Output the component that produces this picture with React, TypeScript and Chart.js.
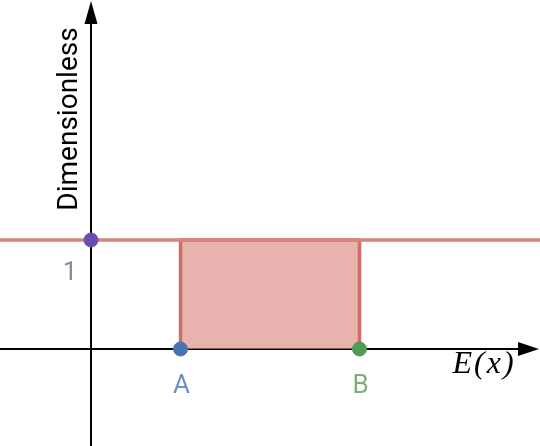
import React, { useEffect, useRef } from "react";
import { Chart, registerables } from "chart.js";

Chart.register(...registerables);

// Data
const pointLabels = ["1", "A", "B"];
const pointX = [0, 1, 3];
const pointY = [1, 0, 0];
const pointColors = ["#6650b0", "#4a74b0", "#4f9a58"];
const labelColors = ["#8c88a8", "#6f93c0", "#7eae80"];
const levelY = 1;
const rectStart = 1;
const rectEnd = 3;
const xAxisLabel = "E(x)";
const yAxisLabel = "Dimensionless";

const X_MIN = -1.017;
const X_MAX = 5.017;
const Y_MIN = -0.89;
const Y_MAX = 3.202;

const axesPlugin = {
  id: "customAxes",
  beforeDatasetsDraw(chart: any) {
    const { ctx, scales } = chart;
    const xs = scales.x;
    const ys = scales.y;
    const x0 = xs.getPixelForValue(0);
    const y0 = ys.getPixelForValue(0);
    ctx.save();
    ctx.strokeStyle = "#000";
    ctx.fillStyle = "#000";
    ctx.lineWidth = 2;
    // x axis
    ctx.beginPath();
    ctx.moveTo(0, y0);
    ctx.lineTo(522, y0);
    ctx.stroke();
    ctx.beginPath();
    ctx.moveTo(539, y0);
    ctx.lineTo(518, y0 - 7);
    ctx.lineTo(518, y0 + 7);
    ctx.closePath();
    ctx.fill();
    // y axis
    ctx.beginPath();
    ctx.moveTo(x0, 446);
    ctx.lineTo(x0, 20);
    ctx.stroke();
    ctx.beginPath();
    ctx.moveTo(x0, 1);
    ctx.lineTo(x0 - 6.5, 24);
    ctx.lineTo(x0 + 6.5, 24);
    ctx.closePath();
    ctx.fill();
    ctx.restore();
  },
  afterDatasetsDraw(chart: any) {
    const { ctx, scales } = chart;
    const xs = scales.x;
    const ys = scales.y;
    ctx.save();
    ctx.font = "26px Roboto, 'Liberation Sans', Arial, sans-serif";
    ctx.textAlign = "center";
    ctx.textBaseline = "alphabetic";
    ctx.fillStyle = labelColors[0];
    ctx.fillText(pointLabels[0], xs.getPixelForValue(pointX[0]) - 21, ys.getPixelForValue(pointY[0]) + 40);
    for (let i = 1; i < pointLabels.length; i++) {
      ctx.fillStyle = labelColors[i];
      ctx.fillText(pointLabels[i], xs.getPixelForValue(pointX[i]) + 1, ys.getPixelForValue(pointY[i]) + 44);
    }
    // x axis label
    ctx.fillStyle = "#000";
    ctx.font = "italic 32px 'Liberation Serif', 'Times New Roman', serif";
    (ctx as any).letterSpacing = "2px";
    ctx.fillText(xAxisLabel, 484, 373);
    (ctx as any).letterSpacing = "0px";
    // y axis label
    ctx.translate(77, 119);
    ctx.rotate(-Math.PI / 2);
    ctx.font = "28px Roboto, 'Liberation Sans', Arial, sans-serif";
    ctx.fillText(yAxisLabel, 0, 0);
    ctx.restore();
  },
};

export default function App() {
  const ref = useRef<HTMLCanvasElement>(null);
  useEffect(() => {
    document.body.style.margin = "0";
    const canvas = ref.current!;
    const chart = new Chart(canvas, {
      type: "scatter",
      data: {
        datasets: [
          {
            type: "line",
            data: [
              { x: rectStart, y: 0 },
              { x: rectStart, y: levelY },
              { x: rectEnd, y: levelY },
              { x: rectEnd, y: 0 },
            ],
            borderColor: "#d06e66",
            backgroundColor: "rgba(220,138,130,0.65)",
            borderWidth: 3.5,
            fill: "origin",
            pointRadius: 0,
            tension: 0,
            clip: false,
            order: 3,
          } as any,
          {
            type: "line",
            data: [
              { x: X_MIN - 0.1, y: levelY },
              { x: X_MAX + 0.1, y: levelY },
            ],
            borderColor: "#d6857d",
            borderWidth: 3.5,
            fill: false,
            pointRadius: 0,
            order: 2,
          } as any,
          {
            type: "scatter",
            data: pointX.map((x, i) => ({ x, y: pointY[i] })),
            backgroundColor: pointColors,
            borderColor: pointColors,
            pointRadius: 7,
            clip: false,
            order: 1,
          } as any,
        ],
      },
      options: {
        animation: false,
        responsive: false,
        layout: { padding: 0, autoPadding: false } as any,
        plugins: { legend: { display: false }, tooltip: { enabled: false } },
        scales: {
          x: { type: "linear", min: X_MIN, max: X_MAX, display: false },
          y: { type: "linear", min: Y_MIN, max: Y_MAX, display: false },
        },
      },
      plugins: [axesPlugin],
    });
    return () => chart.destroy();
  }, []);
  return <canvas ref={ref} width={540} height={446} style={{ display: "block" }} />;
}
